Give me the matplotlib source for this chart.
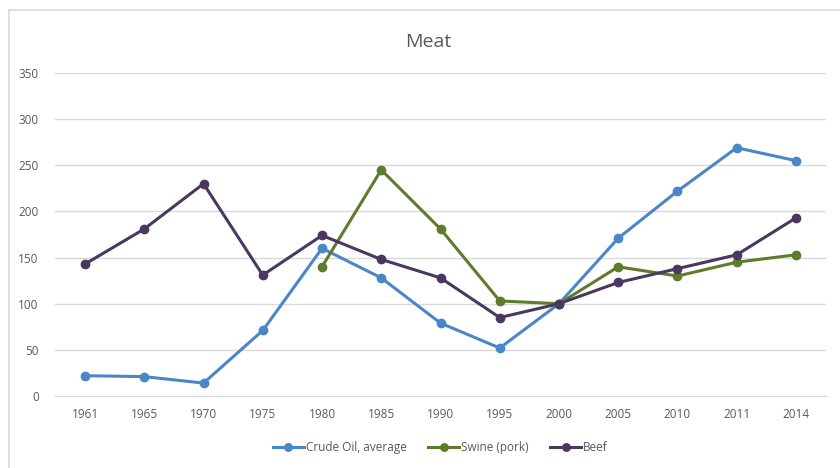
import numpy as np
import matplotlib
matplotlib.use("Agg")
import matplotlib.pyplot as plt
from matplotlib.patches import Rectangle

years = ["1961", "1965", "1970", "1975", "1980", "1985", "1990",
         "1995", "2000", "2005", "2010", "2011", "2014"]
crude_oil = [22, 21, 14, 71, 160, 128, 79, 52, 100, 171, 222, 269, 255]
swine = [np.nan, np.nan, np.nan, np.nan, 140, 245, 181, 103, 100, 140, 130, 145, 153]
beef = [143, 181, 230, 131, 174, 148, 128, 85, 100, 123, 138, 153, 193]

plt.rcParams['font.family'] = ['Liberation Sans Narrow', 'Open Sans', 'DejaVu Sans']

fig = plt.figure(figsize=(8.4, 4.68), dpi=100)
# light chart border like the Excel chart area
fig.patches.append(Rectangle((9 / 840, -0.1), 1.2, 1 - 10 / 468 + 0.1,
                             transform=fig.transFigure, fill=False,
                             edgecolor="#d9d9d9", linewidth=1.2))

ax = fig.add_axes([55.4 / 840, 1 - 396 / 468, (825.6 - 55.4) / 840, (396 - 73) / 468])
x = np.arange(len(years))

ax.plot(x, crude_oil, color="#4a86c8", lw=2.2, marker="o", ms=6, label="Crude Oil, average")
ax.plot(x, swine, color="#5f7b2c", lw=2.2, marker="o", ms=6, label="Swine (pork)")
ax.plot(x, beef, color="#4b3861", lw=2.2, marker="o", ms=6, label="Beef")

ax.set_xlim(-0.5, len(years) - 0.5)
ax.set_ylim(0, 350)
ax.set_yticks(range(0, 351, 50))
ax.set_xticks(x)
ax.set_xticklabels(years)
ax.grid(axis="y", color="#d9d9d9", lw=1)
ax.set_axisbelow(True)
for s in ["top", "right", "left"]:
    ax.spines[s].set_visible(False)
ax.spines["bottom"].set_color("#d9d9d9")
ax.tick_params(length=0, labelsize=8.5, colors="#595959")
ax.tick_params(axis="x", pad=9)
ax.tick_params(axis="y", pad=12)

fig.text(0.51, 1 - 42 / 468, "Meat", ha="center", va="center", fontsize=14, color="#595959")

ax.legend(loc="center", bbox_to_anchor=(0.5, -0.16), ncol=3, frameon=False,
          fontsize=8.5, labelcolor="#595959", handlelength=2.6, handletextpad=0.2,
          columnspacing=1.8, markerscale=0.9)

fig.savefig("out.png", dpi=100)
